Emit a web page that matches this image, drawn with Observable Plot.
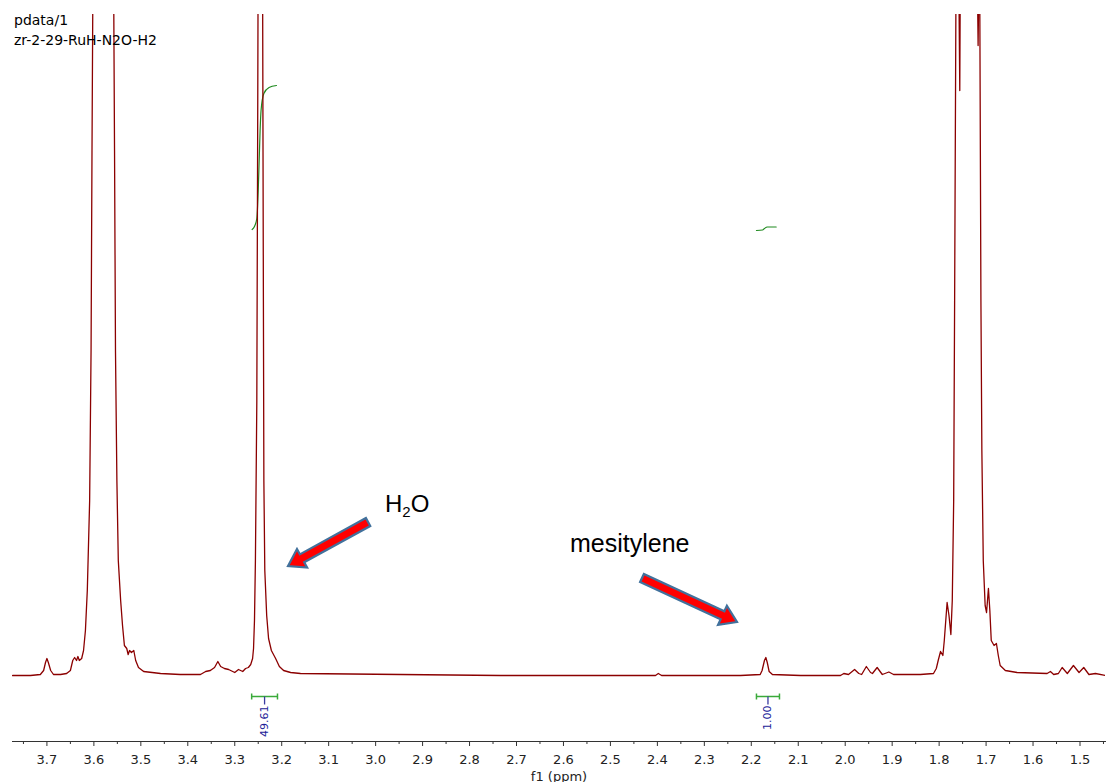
<!DOCTYPE html>
<html><head><meta charset="utf-8">
<script src="https://cdn.jsdelivr.net/npm/d3@7"></script>
<script src="https://cdn.jsdelivr.net/npm/@observablehq/plot@0.6"></script>
<style>
body{margin:0;background:#fff;}
#chart{width:1108px;height:782px;}
</style></head><body><div id="chart"></div>
<script>
// ---- data ----
const titleLines = ["pdata/1", "zr-2-29-RuH-N2O-H2"];
const specPpm = [3.773,3.735,3.714,3.707,3.703,3.700,3.697,3.692,3.686,3.671,3.658,3.650,3.645,3.641,3.637,3.634,3.631,3.626,3.622,3.618,3.614,3.609,3.606,3.604,3.602,3.600,3.578,3.560,3.558,3.556,3.554,3.551,3.548,3.543,3.539,3.535,3.530,3.527,3.524,3.520,3.515,3.511,3.505,3.494,3.458,3.416,3.373,3.362,3.352,3.343,3.336,3.330,3.322,3.313,3.300,3.292,3.283,3.277,3.271,3.266,3.262,3.260,3.258,3.256,3.253,3.251,3.250,3.245,3.241,3.239,3.238,3.236,3.232,3.228,3.222,3.213,3.205,3.196,3.181,3.160,2.947,2.734,2.404,2.398,2.391,2.223,2.181,2.177,2.172,2.169,2.166,2.162,2.155,2.095,2.010,2.003,1.993,1.980,1.971,1.965,1.955,1.946,1.942,1.932,1.921,1.907,1.897,1.840,1.812,1.806,1.802,1.797,1.792,1.789,1.783,1.779,1.775,1.772,1.769,1.767,1.764,1.760,1.756,1.754,1.738,1.721,1.717,1.714,1.711,1.709,1.706,1.702,1.699,1.695,1.692,1.689,1.683,1.678,1.674,1.670,1.659,1.634,1.570,1.563,1.556,1.546,1.538,1.527,1.514,1.502,1.492,1.481,1.467,1.446];
const specInt = [0,0,1,5,13,17,13,5,1,1,2,5,15,18,15,19,15,17,25,45,85,175,325,525,700,850,1100,850,700,525,325,195,115,75,50,30,27,21,25,23,25,15,8,4,2,1,1,4,5,8,14,9,7,6,3,6,4,7,8,11,17,27,55,115,275,575,750,1300,750,375,195,105,60,37,25,17,9,5,3,2,1,0,0,2,0,0,1,5,15,18,13,4,1,0,0,2,1,6,2,1,9,3,2,8,1,3.5,1,1,2,7,15,24,20,35,73,60,41,75,175,375,700,800,585,800,1000,800,630,750,375,225,115,70,63,87,65,35,30,32,20,10,5,3,2,4,1,2,8,2,10,3,8,1,2,0];
const integ1Ppm = [3.263,3.258,3.253,3.250,3.248,3.246,3.244,3.238,3.227,3.211];
const integ1Val = [446,449,457,485,515,545,565,582,588,590];
const integ2Ppm = [2.189,2.176,2.172,2.166,2.147];
const integ2Val = [445,445.5,447,448.5,448.5];
const integralFrom = [3.264, 2.189];
const integralTo = [3.209, 2.140];
const integralLabels = ["49.61", "1.00"];
const majorTicks = [3.7,3.6,3.5,3.4,3.3,3.2,3.1,3.0,2.9,2.8,2.7,2.6,2.5,2.4,2.3,2.2,2.1,2.0,1.9,1.8,1.7,1.6,1.5];
const minorTicks = [3.75,3.65,3.55,3.45,3.35,3.25,3.15,3.05,2.95,2.85,2.75,2.65,2.55,2.45,2.35,2.25,2.15,2.05,1.95,1.85,1.75,1.65,1.55,1.45];
const annotLabels = ["H2O", "mesitylene"];

// ---- build tables ----
const spectrum = specPpm.map((p, i) => ({ppm: p, v: specInt[i]}));
const integ1 = integ1Ppm.map((p, i) => ({ppm: p, v: integ1Val[i]}));
const integ2 = integ2Ppm.map((p, i) => ({ppm: p, v: integ2Val[i]}));
const integrals = integralFrom.map((f, i) => ({from: f, to: integralTo[i], mid: (f + integralTo[i]) / 2, label: integralLabels[i]}));

// layout constants (data units of the y scale: 1 unit = 1 px)
const bracketY = -21, capH = 3, stemY = -29;

const chart = Plot.plot({
  width: 1108, height: 782,
  marginLeft: 12, marginRight: 3, marginTop: 14, marginBottom: 41,
  style: {fontFamily: "DejaVu Sans, Verdana, sans-serif", fontSize: "13px", background: "#fff", color: "#222"},
  x: {domain: [3.7733, 1.4457]},
  y: {domain: [-66, 661], axis: null},
  marks: [
    Plot.frame({anchor: "bottom", stroke: "#333"}),
    Plot.axisX(minorTicks, {tickSize: 3, tickFormat: () => "", label: null, stroke: "#333"}),
    Plot.axisX(majorTicks, {tickSize: 5, tickPadding: 8, tickFormat: d => d.toFixed(1), label: "f1 (ppm)", labelAnchor: "center", labelArrow: "none", labelOffset: 39, stroke: "#333", fontSize: 13}),
    Plot.line(integ1, {x: "ppm", y: "v", stroke: "#1f8a1f", strokeWidth: 1.2, curve: "monotone-x"}),
    Plot.line(integ2, {x: "ppm", y: "v", stroke: "#1f8a1f", strokeWidth: 1.2, curve: "monotone-x"}),
    Plot.line(spectrum, {x: "ppm", y: "v", stroke: "#8b0000", strokeWidth: 1.3, clip: true}),
    Plot.link(integrals, {x1: "from", x2: "to", y1: bracketY, y2: bracketY, stroke: "#3aaa3a", strokeWidth: 1.5}),
    Plot.link(integrals, {x1: "from", x2: "from", y1: bracketY - capH, y2: bracketY + capH, stroke: "#3aaa3a", strokeWidth: 1.5}),
    Plot.link(integrals, {x1: "to", x2: "to", y1: bracketY - capH, y2: bracketY + capH, stroke: "#3aaa3a", strokeWidth: 1.5}),
    Plot.link(integrals, {x1: "mid", x2: "mid", y1: bracketY, y2: stemY, stroke: "#3a3aa0", strokeWidth: 1.3}),
    Plot.text(integrals, {x: "mid", y: stemY - 1, text: "label", rotate: -90, textAnchor: "end", fill: "#1c1c98", fontSize: 11})
  ]
});
document.getElementById("chart").appendChild(chart);

// ---- annotations (arrows and labels) positioned through the plot's scales ----
const sx = chart.scale("x"), sy = chart.scale("y");
const svg = d3.select(chart);
const arrows = [
  {tail: [3.015, 153], head: [3.1855, 109]},
  {tail: [2.4317, 97], head: [2.2294, 53]}
];
arrows.forEach(a => {
  const T = [sx.apply(a.tail[0]), sy.apply(a.tail[1])];
  const H = [sx.apply(a.head[0]), sy.apply(a.head[1])];
  const dx = H[0] - T[0], dy = H[1] - T[1], L = Math.hypot(dx, dy);
  const u = [dx / L, dy / L], n = [-u[1], u[0]];
  const w = 4.5, hw = 10.5, hl = 16;
  const B = [H[0] - u[0] * hl, H[1] - u[1] * hl];
  const pts = [
    [T[0] + n[0] * w, T[1] + n[1] * w],
    [B[0] + n[0] * w, B[1] + n[1] * w],
    [B[0] + n[0] * hw, B[1] + n[1] * hw],
    H,
    [B[0] - n[0] * hw, B[1] - n[1] * hw],
    [B[0] - n[0] * w, B[1] - n[1] * w],
    [T[0] - n[0] * w, T[1] - n[1] * w]
  ];
  svg.append("polygon").attr("points", pts.map(p => p.join(",")).join(" "))
    .attr("fill", "#ff0000").attr("stroke", "#41719c").attr("stroke-width", 2.2).attr("stroke-linejoin", "miter");
});
const h2o = svg.append("text")
  .attr("x", sx.apply(2.979)).attr("y", sy.apply(163)).attr("text-anchor", "start")
  .attr("font-family", "Liberation Sans, Arial, sans-serif").attr("font-size", 24).attr("fill", "#000");
h2o.append("tspan").text(annotLabels[0].slice(0, 1));
h2o.append("tspan").text(annotLabels[0].slice(1, 2)).attr("font-size", 15).attr("dy", 5);
h2o.append("tspan").text(annotLabels[0].slice(2)).attr("dy", -5);
svg.append("text")
  .attr("x", sx.apply(2.585)).attr("y", sy.apply(123)).attr("text-anchor", "start")
  .attr("font-family", "Liberation Sans, Arial, sans-serif").attr("font-size", 25).attr("fill", "#000")
  .text(annotLabels[1]);

// title lines
titleLines.forEach((t, i) => {
  svg.append("text").attr("x", 14).attr("y", 25 + i * 20).attr("text-anchor", "start")
    .attr("font-family", "DejaVu Sans, Verdana, sans-serif").attr("font-size", 14).attr("fill", "#000").text(t);
});
</script></body></html>
